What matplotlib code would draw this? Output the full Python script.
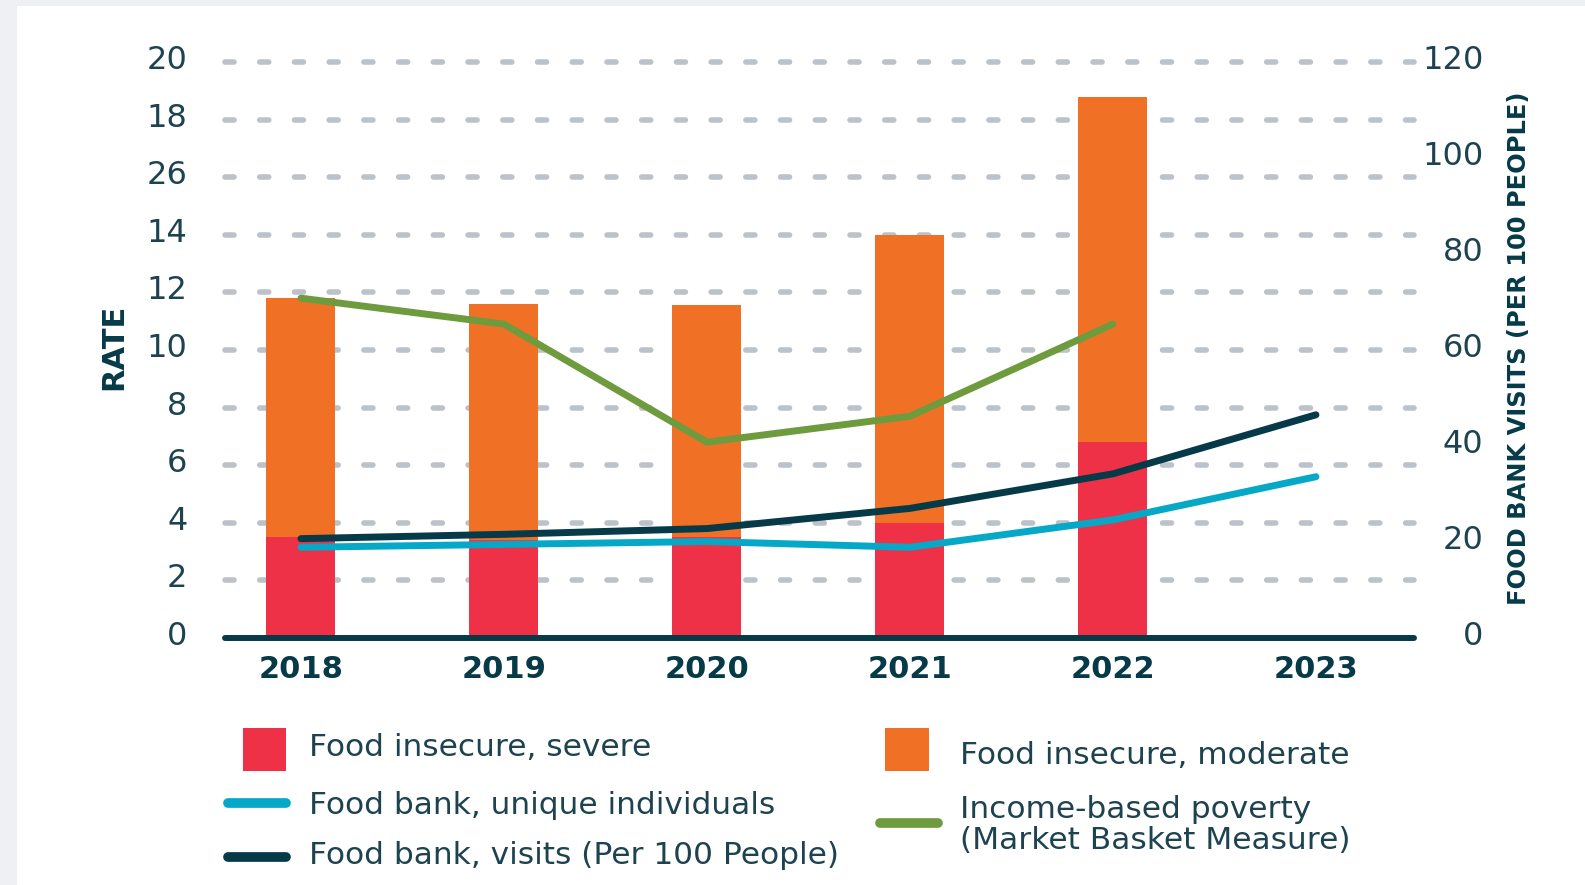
import matplotlib
matplotlib.use("Agg")
import matplotlib.pyplot as plt
from matplotlib import transforms
from matplotlib.patches import Rectangle
from matplotlib.lines import Line2D

# data
years = ["2018", "2019", "2020", "2021", "2022", "2023"]
bar_years = ["2018", "2019", "2020", "2021", "2022"]
severe = [3.5, 3.4, 3.5, 4.0, 6.8]
moderate = [8.3, 8.2, 8.05, 10.0, 12.0]
poverty = [11.8, 10.9, 6.8, 7.7, 10.9]
unique_individuals = [3.15, 3.25, 3.35, 3.15, 4.1, 5.6]
visits_per_100 = [20.7, 21.6, 22.8, 27.0, 34.2, 46.5]   # right axis

left_ticks = [0, 2, 4, 6, 8, 10, 12, 14, 16, 18, 20]
left_tick_labels = ["0", "2", "4", "6", "8", "10", "12", "14", "26", "18", "20"]
right_ticks = [0, 20, 40, 60, 80, 100, 120]

legend_labels = ["Food insecure, severe", "Food insecure, moderate",
                 "Food bank, unique individuals", "Income-based poverty\n(Market Basket Measure)",
                 "Food bank, visits (Per 100 People)"]

RED = "#ee3146"
ORANGE = "#f07126"
GREEN = "#6f9b3f"
BLUE = "#05a9c7"
NAVY = "#063a48"
GRID = "#bcc2c9"
TEXT = "#1e4350"

plt.rcParams["font.family"] = ["DejaVu Sans"]
plt.rcParams["lines.scale_dashes"] = False

W, H = 1585, 885
fig = plt.figure(figsize=(W / 100, H / 100), dpi=100)
fig.patch.set_facecolor("#eef0f3")


def fx(x):
    return x / W


def fy(y):
    return (H - y) / H


# white panel behind everything
fig.patches.append(Rectangle((fx(17), 0), 1 - fx(17), fy(6), transform=fig.transFigure,
                             facecolor="white", edgecolor="none", zorder=-5))

ax = fig.add_axes([fx(225), fy(638), fx(1414) - fx(225), fy(62) - fy(638)])
ax.set_facecolor("none")
ax.set_xlim(-0.374, 5.483)
ax.set_ylim(0, 20)
for s in ax.spines.values():
    s.set_visible(False)

xb = list(range(len(bar_years)))
x = list(range(len(years)))
ax.bar(xb, severe, width=0.34, color=RED, zorder=2)
ax.bar(xb, moderate, width=0.34, bottom=severe, color=ORANGE, zorder=2)

# dashed grid
for t in left_ticks[1:]:
    ax.plot([0, 1.0], [t, t], transform=ax.get_yaxis_transform(), color=GRID, lw=4,
            dashes=(6.5, 18.5), dash_capstyle="round", clip_on=False, zorder=1)
ax.plot([0, 1], [0, 0], transform=ax.get_yaxis_transform(), color=NAVY, lw=4.3,
        solid_capstyle="round", clip_on=False, zorder=4)

ax.plot(x[:5], poverty, color=GREEN, lw=5, solid_capstyle="round", zorder=5)
ax.plot(x, unique_individuals, color=BLUE, lw=5, solid_capstyle="round", zorder=5)

ax.set_yticks(left_ticks)
ax.set_yticklabels(left_tick_labels)
ax.set_xticks(x)
ax.set_xticklabels(years, fontweight="bold")
ax.tick_params(axis="y", length=0, pad=27, labelsize=23, labelcolor=TEXT)
ax.tick_params(axis="x", length=0, pad=12, labelsize=22, labelcolor=NAVY)

ax2 = ax.twinx()
ax2.set_ylim(0, 120)
for s in ax2.spines.values():
    s.set_visible(False)
ax2.plot(x, visits_per_100, color=NAVY, lw=5, solid_capstyle="round", zorder=5)
ax2.set_yticks(right_ticks)
ax2.tick_params(axis="y", length=0, pad=50, labelsize=23, labelcolor=TEXT)

up = transforms.ScaledTranslation(0, 5 / 100, fig.dpi_scale_trans)
for lbl in ax.get_yticklabels():
    lbl.set_transform(lbl.get_transform() + up)
for lbl in ax2.get_yticklabels():
    lbl.set_transform(lbl.get_transform() + up)
    lbl.set_horizontalalignment("right")

fig.text(fx(114), fy(347), "RATE", rotation=90, ha="center", va="center",
         fontsize=22, fontweight="bold", color=NAVY)
fig.text(fx(1519), fy(348), "FOOD BANK VISITS (PER 100 PEOPLE)", rotation=90,
         ha="center", va="center", fontsize=17.4, fontweight="bold", color=NAVY)

# legend
fig.patches.append(Rectangle((fx(243), fy(771)), fx(43), 43 / H, transform=fig.transFigure,
                             facecolor=RED, edgecolor="none"))
fig.patches.append(Rectangle((fx(885), fy(771)), fx(44), 43 / H, transform=fig.transFigure,
                             facecolor=ORANGE, edgecolor="none"))
for (x0, x1, y, c) in [(228, 286, 803, BLUE), (228, 286, 857, NAVY), (880, 938, 823, GREEN)]:
    fig.lines.append(Line2D([fx(x0), fx(x1)], [fy(y), fy(y)], transform=fig.transFigure,
                            color=c, lw=7, solid_capstyle="round"))

legend_pos = [(309, 748), (960, 755), (309, 805), (960, 825), (309, 856)]
for lab, (tx, ty) in zip(legend_labels, legend_pos):
    fig.text(fx(tx), fy(ty), lab, ha="left", va="center", fontsize=22.5, color=TEXT,
             linespacing=1.1)

fig.savefig("out.png", dpi=100, facecolor=fig.get_facecolor())
